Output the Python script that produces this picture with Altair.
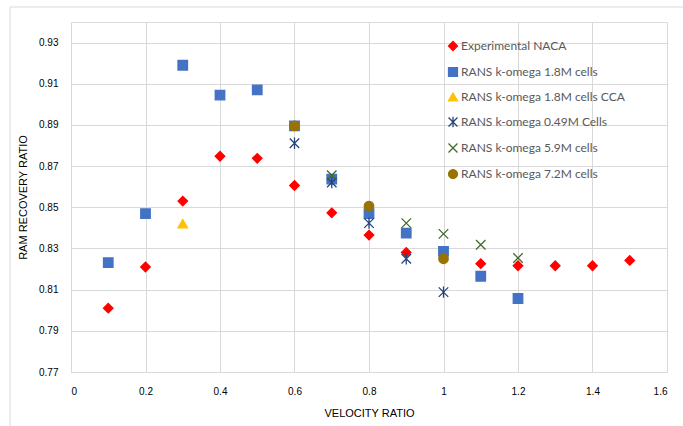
import altair as alt
import pandas as pd

series_names = [
    "Experimental NACA",
    "RANS k-omega 1.8M cells",
    "RANS k-omega 1.8M cells CCA",
    "RANS k-omega 0.49M Cells",
    "RANS k-omega 5.9M cells",
    "RANS k-omega 7.2M cells",
]

naca_x = [0.1, 0.2, 0.3, 0.4, 0.5, 0.6, 0.7, 0.8, 0.9, 1.1, 1.2, 1.3, 1.4, 1.5]
naca_y = [0.801, 0.821, 0.853, 0.8748, 0.8738, 0.8606, 0.8473, 0.8365, 0.8281, 0.8226, 0.8216, 0.8216, 0.8216, 0.8242]

m18_x = [0.1, 0.2, 0.3, 0.4, 0.5, 0.6, 0.7, 0.8, 0.9, 1.0, 1.1, 1.2]
m18_y = [0.8231, 0.8469, 0.919, 0.9045, 0.907, 0.8895, 0.8637, 0.8469, 0.8375, 0.8286, 0.8165, 0.8057]

cca_x = [0.3]
cca_y = [0.842]

m049_x = [0.6, 0.7, 0.8, 0.9, 1.0]
m049_y = [0.8811, 0.862, 0.8423, 0.825, 0.8088]

m59_x = [0.7, 0.9, 1.0, 1.1, 1.2]
m59_y = [0.8656, 0.8423, 0.8371, 0.8318, 0.8254]

m72_x = [0.6, 0.8, 1.0]
m72_y = [0.8895, 0.8506, 0.825]

colors = ["#FF0000", "#4472C4", "#FFC000", "#264478", "#43682B", "#997300"]
shapes = [
    "diamond",
    "square",
    "triangle-up",
    "M-1,-1L1,1M-1,1L1,-1M0,-1.2L0,1.2",
    "M-1,-1L1,1M-1,1L1,-1",
    "circle",
]

rows = []
for name, xs, ys in zip(
    series_names,
    [naca_x, m18_x, cca_x, m049_x, m59_x, m72_x],
    [naca_y, m18_y, cca_y, m049_y, m59_y, m72_y],
):
    for xv, yv in zip(xs, ys):
        rows.append({"series": name, "vr": xv, "rr": yv})
df = pd.DataFrame(rows)

font = "Lato"
txt = "#595959"
grid = "#D9D9D9"

cscale = alt.Scale(domain=series_names, range=colors)
legend = alt.Legend(
    title=None,
    orient="none",
    legendX=376,
    legendY=18,
    labelFont=font,
    labelFontSize=12,
    labelColor=txt,
    labelLimit=400,
    symbolSize=80,
    symbolStrokeWidth=1.3,
    rowPadding=10,
    labelOffset=2,
    padding=0,
)

points = alt.Chart(df).mark_point(filled=True, opacity=1, size=90, strokeWidth=1.3).encode(
    x=alt.X(
        "vr:Q",
        scale=alt.Scale(domain=[0, 1.6], nice=False, zero=False),
        axis=alt.Axis(
            title="VELOCITY RATIO",
            values=[0, 0.2, 0.4, 0.6, 0.8, 1.0, 1.2, 1.4, 1.6],
            format="~g",
            grid=True,
            gridColor=grid,
            domain=False,
            ticks=False,
            labelPadding=14,
            titlePadding=11,
            titleFontWeight="normal",
            titleFontSize=11,
        ),
    ),
    y=alt.Y(
        "rr:Q",
        scale=alt.Scale(domain=[0.77, 0.94], nice=False, zero=False),
        axis=alt.Axis(
            title="RAM RECOVERY RATIO",
            values=[0.77, 0.79, 0.81, 0.83, 0.85, 0.87, 0.89, 0.91, 0.93],
            format=".2f",
            grid=True,
            gridColor=grid,
            domain=False,
            ticks=False,
            labelPadding=13,
            titlePadding=10,
            titleFontWeight="normal",
            titleFontSize=11,
        ),
    ),
    color=alt.Color("series:N", scale=cscale, legend=legend, sort=series_names),
    stroke=alt.Stroke("series:N", scale=cscale, legend=legend, sort=series_names),
    shape=alt.Shape("series:N", scale=alt.Scale(domain=series_names, range=shapes), legend=legend, sort=series_names),
)

frame = alt.Chart(pd.DataFrame({"a": [0]})).mark_rect(
    filled=False, stroke=grid, strokeWidth=1
).encode(
    x=alt.value(-61), x2=alt.value(720), y=alt.value(-15), y2=alt.value(500)
)

chart = alt.layer(frame, points).properties(
    width=596,
    height=350,
    autosize=alt.AutoSizeParams(type="none"),
    padding={"left": 71, "top": 22, "right": 16, "bottom": 54},
).configure_view(stroke=None).configure_axis(
    labelFont=font,
    labelFontSize=12,
    labelColor=txt,
    titleFont=font,
    titleColor=txt,
).configure(background="white")

chart.save("out.html", embed_options={"renderer": "svg", "actions": False})
